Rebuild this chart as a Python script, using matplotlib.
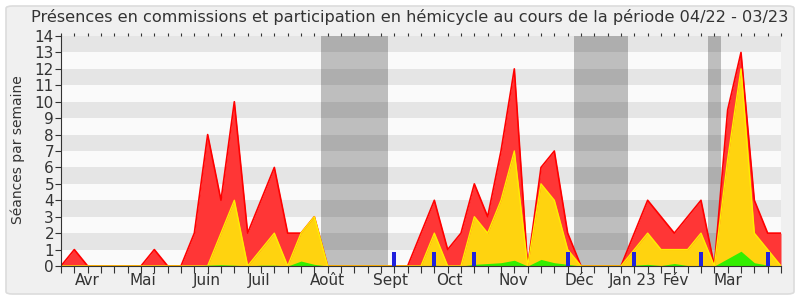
import matplotlib
matplotlib.use("Agg")
import matplotlib.pyplot as plt
from matplotlib.patches import FancyBboxPatch
import numpy as np

# semaines 0..54 (période 04/22 - 03/23)
semaines = np.arange(55)

# total séances (rouge)
presences = [0, 1, 0, 0, 0, 0, 0, 1, 0, 0, 2, 8, 4, 10, 2, 4, 6, 2, 2, 3,
             0, 0, 0, 0, 0, 0, 0, 2, 4, 1, 2, 5, 3, 7, 12, 0, 6, 7, 2, 0,
             0, 0, 0, 2, 4, 3, 2, 3, 4, 0, 9.5, 13, 4, 2, 2]
# hémicycle (jaune)
hemicycle = [0, 0, 0, 0, 0, 0, 0, 0, 0, 0, 0, 0, 2, 4, 0, 1, 2, 0, 2, 3,
             0, 0, 0, 0, 0, 0, 0, 0, 2, 0, 0, 3, 2, 4, 7, 0, 5, 4, 1, 0,
             0, 0, 0, 1, 2, 1, 1, 1, 2, 0, 6.5, 12, 2, 1, 0]
# interventions (vert)
interventions = [0, 0, 0, 0, 0, 0, 0, 0, 0, 0, 0, 0.05, 0.08, 0.05, 0, 0.05, 0.05, 0, 0.3, 0.1,
                 0, 0, 0, 0, 0, 0, 0, 0, 0.05, 0, 0, 0.1, 0.15, 0.2, 0.35, 0, 0.4, 0.2, 0.1, 0,
                 0, 0, 0, 0.05, 0.1, 0.03, 0.15, 0.03, 0.03, 0, 0.45, 0.9, 0.2, 0.05, 0]
# questions (bleu)
questions_sem = [25, 28, 31, 38, 43, 48, 53]
questions_val = [0.87, 0.87, 0.87, 0.87, 0.87, 0.87, 0.87]

# vacances parlementaires
vacances = [(19.5, 24.5), (38.5, 42.5), (48.5, 49.5)]

mois_pos = [1.95, 6.13, 10.93, 14.85, 19.95, 24.75, 29.12, 33.93, 38.9, 42.85, 46.1, 50.0]
mois_labels = ['Avr', 'Mai', 'Juin', 'Juil', 'Août', 'Sept', 'Oct', 'Nov', 'Déc',
               'Jan 23', 'Fév', 'Mar']

txt = '#333333'

fig = plt.figure(figsize=(8, 3), dpi=100)
fig.patch.set_facecolor('white')
cadre = FancyBboxPatch((6 / 800, 6 / 300), 788 / 800, 288 / 300,
                       boxstyle='round,pad=0,rounding_size=0.008',
                       transform=fig.transFigure, facecolor='#f0f0f0',
                       edgecolor='#dcdcdc', lw=1.2, zorder=-10)
fig.patches.append(cadre)

ax = fig.add_axes([61 / 800, 34 / 300, 720 / 800, 230 / 300])
ax.set_xlim(0, 54)
ax.set_ylim(0, 14)
ax.set_facecolor('#fafafa')

# bandes horizontales
for y0 in range(1, 14, 2):
    ax.axhspan(y0, y0 + 1, color='#e5e5e5', lw=0, zorder=0)

for d, f in vacances:
    ax.axvspan(d, f, color='black', alpha=0.24, lw=0, zorder=1)

ax.fill_between(semaines, presences, color='#ff3636', lw=0, zorder=2)
ax.plot(semaines, presences, color='#ff0000', lw=1.2, zorder=3)
ax.fill_between(semaines, hemicycle, color='#ffd30f', lw=0, zorder=4)
ax.plot(semaines, hemicycle, color='#ffee00', lw=1.0, zorder=5)
ax.fill_between(semaines, interventions, color='#33ee00', lw=0, zorder=6)
ax.bar(questions_sem, questions_val, width=0.3, color='#2222dd', zorder=7)

for s in ['top', 'right']:
    ax.spines[s].set_visible(False)
for s in ['left', 'bottom']:
    ax.spines[s].set_color(txt)
    ax.spines[s].set_zorder(8)

ax.set_yticks(range(15))
ax.tick_params(axis='y', length=4, color=txt, labelcolor=txt, labelsize=11, pad=1)

ax.xaxis.remove_overlapping_locs = False
ax.set_xticks(semaines)
ax.set_xticklabels([])
ax.tick_params(axis='x', which='major', length=5, color=txt)
ax.set_xticks(mois_pos, minor=True)
ax.set_xticklabels(mois_labels, minor=True)
ax.tick_params(axis='x', which='minor', length=0, pad=5, labelcolor=txt, labelsize=11)

haut = ax.secondary_xaxis('top')
haut.set_xticks(semaines)
haut.tick_params(length=2, color=txt, labeltop=False)
haut.spines['top'].set_visible(False)

fig.text(18 / 800, 0.5, 'Séances par semaine', rotation=90, va='center', ha='center',
         fontsize=10, color=txt)
fig.text(410 / 800, 1 - 17 / 300,
         'Présences en commissions et participation en hémicycle au cours de la période 04/22 - 03/23',
         ha='center', va='center', fontsize=11.6, color=txt)

fig.savefig('out.png', dpi=100, facecolor=fig.get_facecolor())
